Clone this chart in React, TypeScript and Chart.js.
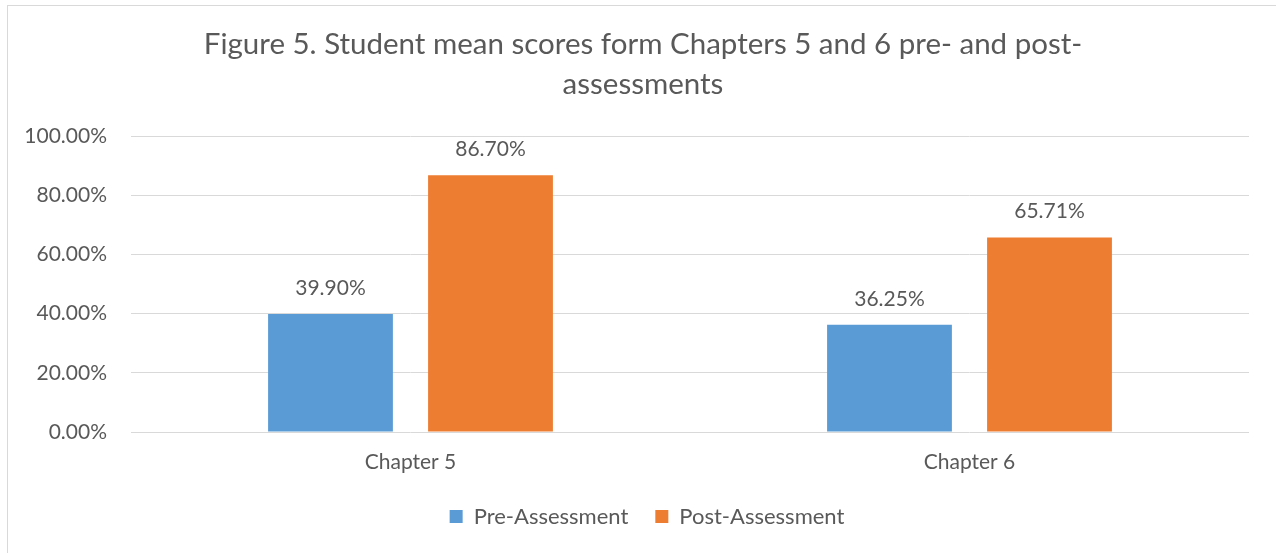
import React, { useEffect, useRef } from "react";
import { Chart, registerables } from "chart.js";

Chart.register(...registerables);

const categories = ["Chapter 5", "Chapter 6"];
const seriesNames = ["Pre-Assessment", "Post-Assessment"];
const preAssessment = [39.9, 36.25];
const postAssessment = [86.7, 65.71];
const yTickValues = [0, 20, 40, 60, 80, 100];
const titleLines = [
  "Figure 5. Student mean scores form Chapters 5 and 6 pre- and post-",
  "assessments",
];

const FONT = "Lato, 'Open Sans', sans-serif";
const TEXT = "#595959";
const GRID = "#d9d9d9";
const BLUE = "#5b9bd5";
const ORANGE = "#ed7d31";

const dataLabels = {
  id: "dataLabels",
  afterDatasetsDraw(chart: any) {
    const ctx = chart.ctx;
    ctx.save();
    ctx.font = `21px ${FONT}`;
    ctx.fillStyle = TEXT;
    ctx.textAlign = "center";
    ctx.textBaseline = "alphabetic";
    chart.data.datasets.forEach((ds: any, i: number) => {
      const meta = chart.getDatasetMeta(i);
      meta.data.forEach((el: any, j: number) => {
        const v = ds.data[j] as number;
        ctx.fillText(v.toFixed(2) + "%", el.x, el.y - 19);
      });
    });
    ctx.restore();
  },
};

// centre the title and legend on the whole chart box rather than the padded area
const centreBoxes = {
  id: "centreBoxes",
  afterLayout(chart: any) {
    const shift = (box: any, extra: number) => {
      if (!box) return;
      const d = chart.width / 2 + extra - (box.left + box.right) / 2;
      box.left += d;
      box.right += d;
    };
    shift(chart.legend, 4);
    shift(chart.titleBlock, 0);
  },
};

export default function App() {
  const ref = useRef<HTMLCanvasElement>(null);

  useEffect(() => {
    if (!ref.current) return;
    const chart = new Chart(ref.current, {
      type: "bar",
      data: {
        labels: categories,
        datasets: [
          {
            label: seriesNames[0],
            data: preAssessment,
            backgroundColor: BLUE,
            categoryPercentage: 0.5725,
            barPercentage: 0.78,
          },
          {
            label: seriesNames[1],
            data: postAssessment,
            backgroundColor: ORANGE,
            categoryPercentage: 0.5725,
            barPercentage: 0.78,
          },
        ],
      },
      options: {
        animation: false,
        responsive: true,
        maintainAspectRatio: false,
        layout: { padding: { left: 0, right: 30, top: 0, bottom: 15.5 } },
        plugins: {
          title: {
            display: true,
            text: titleLines,
            color: TEXT,
            font: { family: FONT, size: 29.5, weight: "normal", lineHeight: 40 / 29.5 },
            padding: { top: 19, bottom: 32 },
          },
          legend: {
            display: true,
            position: "bottom",
            labels: {
              color: TEXT,
              font: { family: FONT, size: 22 },
              boxWidth: 13,
              boxHeight: 13,
              padding: 27,
            },
          },
          tooltip: { enabled: false },
        },
        scales: {
          x: {
            grid: { display: false, drawTicks: false },
            border: { display: false },
            ticks: {
              color: TEXT,
              font: { family: FONT, size: 21 },
              padding: 18,
            },
            afterFit: (s: any) => {
              s.height = 46.5;
            },
          },
          y: {
            min: 0,
            max: 100,
            grid: { color: GRID, lineWidth: 1, drawTicks: false },
            border: { display: false },
            ticks: {
              color: TEXT,
              font: { family: FONT, size: 21 },
              padding: 24,
              callback: (v: any) => Number(v).toFixed(2) + "%",
            },
            afterBuildTicks: (s: any) => {
              s.ticks = yTickValues.map((v) => ({ value: v }));
            },
            afterFit: (s: any) => {
              s.width = 124;
            },
          },
        },
      },
      plugins: [dataLabels, centreBoxes],
    });
    return () => chart.destroy();
  }, []);

  return (
    <div
      style={{
        position: "fixed",
        left: 0,
        top: 0,
        width: 1276,
        height: 553,
        overflow: "hidden",
        background: "#ffffff",
      }}
    >
      <div
        style={{
          position: "absolute",
          left: 7,
          top: 5,
          width: 1272,
          height: 600,
          border: "1px solid #d9d9d9",
          boxSizing: "border-box",
        }}
      />
      <div style={{ position: "absolute", left: 7, top: 5, width: 1272, height: 548 }}>
        <canvas ref={ref} />
      </div>
    </div>
  );
}
